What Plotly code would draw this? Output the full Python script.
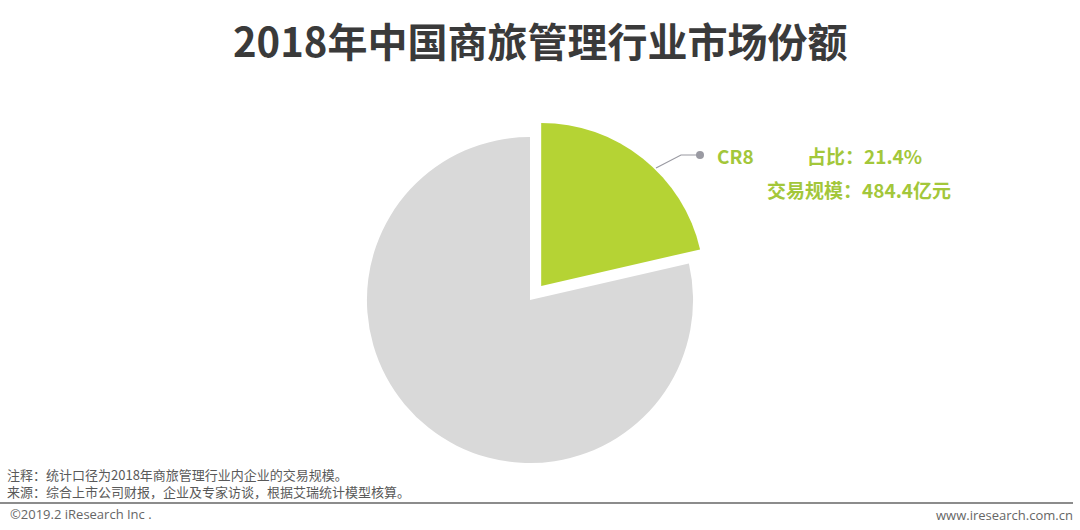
import plotly.graph_objects as go

categories = ["CR8", "其他"]
shares = [21.4, 78.6]
scale_cr8 = 484.4
colors = ["#b5d334", "#d9d9d9"]
pulls = [0.11, 0]

title = "2018年中国商旅管理行业市场份额"
note1 = "注释：统计口径为2018年商旅管理行业内企业的交易规模。"
note2 = "来源：综合上市公司财报，企业及专家访谈，根据艾瑞统计模型核算。"
copyright_txt = "©2019.2 iResearch Inc ."
site_txt = "www.iresearch.com.cn"

W, H = 1080, 530
font_cjk = "Noto Sans CJK SC, Microsoft YaHei, sans-serif"
green_txt = "#a3c73a"

fig = go.Figure(go.Pie(
    labels=categories, values=shares, sort=False, direction="clockwise",
    rotation=0, pull=pulls, marker=dict(colors=colors, line=dict(width=0)),
    textinfo="none", hoverinfo="label+percent", showlegend=False,
    domain=dict(x=[349 / W, 711 / W], y=[1 - 481 / H, 1 - 119 / H]),
))

def px(x):
    return x / W

def py(y):
    return 1 - y / H

annotations = [
    dict(text=f"<b>{title}</b>", x=0.5, y=py(40), xref="paper", yref="paper",
         showarrow=False, font=dict(family=font_cjk, size=40, color="#3a3a3a"),
         xanchor="center", yanchor="middle"),
    dict(text=f"<b>{categories[0]}</b>", x=px(715), y=py(155), xref="paper", yref="paper",
         showarrow=False, font=dict(family=font_cjk, size=19, color=green_txt),
         xanchor="left", yanchor="middle"),
    dict(text=f"<b>占比：{shares[0]}%</b>", x=px(805), y=py(155), xref="paper", yref="paper",
         showarrow=False, font=dict(family=font_cjk, size=19, color=green_txt),
         xanchor="left", yanchor="middle"),
    dict(text=f"<b>交易规模：{scale_cr8}亿元</b>", x=px(765), y=py(190), xref="paper", yref="paper",
         showarrow=False, font=dict(family=font_cjk, size=19, color=green_txt),
         xanchor="left", yanchor="middle"),
    dict(text=note1, x=px(5), y=py(474), xref="paper", yref="paper", showarrow=False,
         font=dict(family=font_cjk, size=13, color="#595959"), xanchor="left", yanchor="middle"),
    dict(text=note2, x=px(5), y=py(491), xref="paper", yref="paper", showarrow=False,
         font=dict(family=font_cjk, size=13, color="#595959"), xanchor="left", yanchor="middle"),
    dict(text=copyright_txt, x=px(8), y=py(514), xref="paper", yref="paper", showarrow=False,
         font=dict(family="Open Sans, sans-serif", size=13, color="#666666"), xanchor="left", yanchor="middle"),
    dict(text=site_txt, x=px(1075), y=py(515), xref="paper", yref="paper", showarrow=False,
         font=dict(family="Open Sans, sans-serif", size=13, color="#666666"), xanchor="right", yanchor="middle"),
]

shapes = [
    dict(type="line", xref="paper", yref="paper", x0=0, x1=px(1073), y0=py(503), y1=py(503),
         line=dict(color="#8c8c8c", width=2)),
    dict(type="path", xref="paper", yref="paper",
         path=f"M {px(656)},{py(168)} L {px(681)},{py(155)} L {px(700)},{py(155)}",
         line=dict(color="#9a9aa2", width=1.2)),
    dict(type="circle", xref="paper", yref="paper", x0=px(696), x1=px(704), y0=py(159), y1=py(151),
         fillcolor="#9a9aa2", line=dict(width=0)),
]

fig.update_layout(width=W, height=H, margin=dict(l=0, r=0, t=0, b=0),
                  paper_bgcolor="white", plot_bgcolor="white",
                  annotations=annotations, shapes=shapes)

fig.write_html("out.html", config={"displayModeBar": False},
               post_script="document.body.style.margin='0';document.body.style.overflow='hidden';")
